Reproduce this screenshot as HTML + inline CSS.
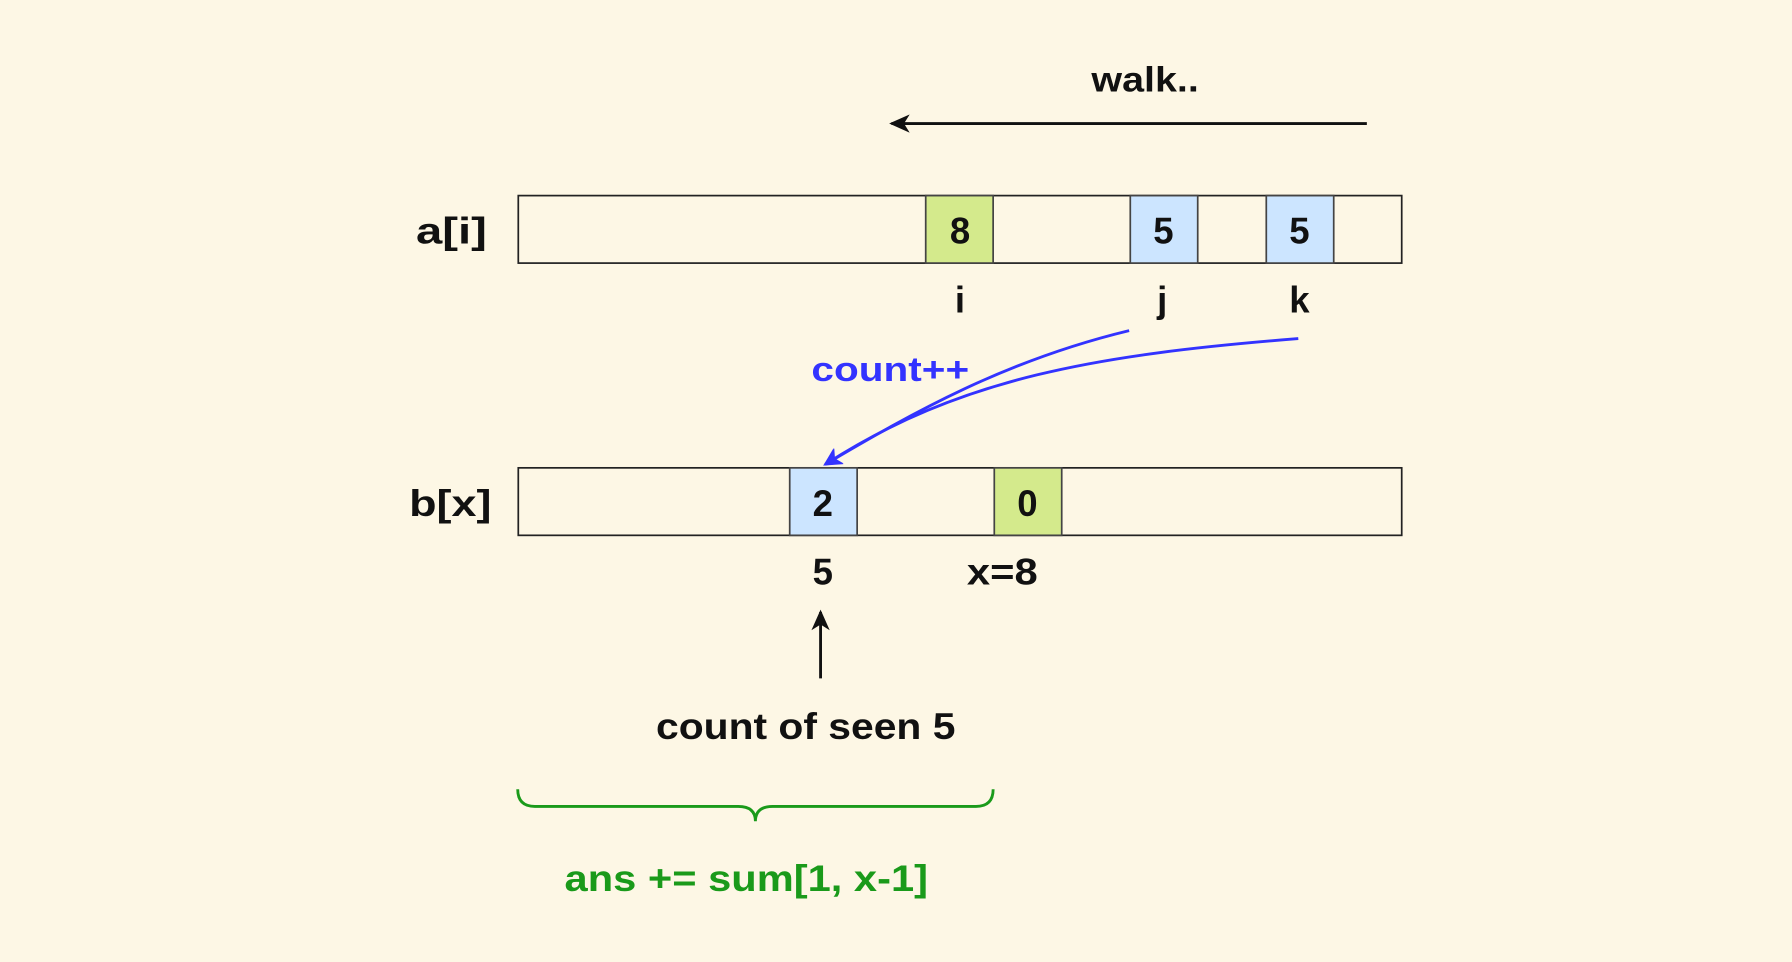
<!DOCTYPE html>
<html><head><meta charset="utf-8"><style>
html,body{margin:0;padding:0;background:#fdf7e5;}
svg{display:block}
text{font-family:"Liberation Sans",sans-serif;font-weight:bold;}
</style></head><body>
<svg width="1792" height="962" viewBox="0 0 1568 841" preserveAspectRatio="none" xmlns="http://www.w3.org/2000/svg">
<rect x="0" y="0" width="1568" height="841" fill="#fdf7e5"/>
<defs>
<marker id="ab" markerWidth="18" markerHeight="18" refX="16" refY="9" orient="auto" markerUnits="userSpaceOnUse"><path d="M0,1 L18,9 L0,17 L5,9 Z" fill="#111"/></marker>
<marker id="ablue" markerWidth="16" markerHeight="16" refX="14" refY="8" orient="auto" markerUnits="userSpaceOnUse"><path d="M0,0 L16,8 L0,16 L4,8 Z" fill="#3333ff"/></marker>
</defs>
<text x="1002" y="80" font-size="31" text-anchor="middle" fill="#111" textLength="94" lengthAdjust="spacingAndGlyphs">walk..</text>
<line x1="1196" y1="108" x2="780" y2="108" stroke="#111" stroke-width="2.5" marker-end="url(#ab)"/>
<text x="395" y="213" font-size="32" text-anchor="middle" fill="#111" textLength="62" lengthAdjust="spacingAndGlyphs">a[i]</text>
<rect x="453.5" y="171" width="773" height="59" fill="none" stroke="#222" stroke-width="1.5"/>
<rect x="810" y="171" width="59" height="59" fill="#d4ea8c" stroke="#444" stroke-width="1.5"/>
<rect x="989" y="171" width="59" height="59" fill="#cce5ff" stroke="#444" stroke-width="1.5"/>
<rect x="1108" y="171" width="59" height="59" fill="#cce5ff" stroke="#444" stroke-width="1.5"/>
<text x="840" y="213" font-size="32" text-anchor="middle" fill="#111">8</text>
<text x="1018" y="213" font-size="32" text-anchor="middle" fill="#111">5</text>
<text x="1137" y="213" font-size="32" text-anchor="middle" fill="#111">5</text>
<text x="840" y="273" font-size="32" text-anchor="middle" fill="#111">i</text>
<text x="1017" y="273" font-size="32" text-anchor="middle" fill="#111">j</text>
<text x="1137" y="273" font-size="32" text-anchor="middle" fill="#111">k</text>
<path d="M988,289 C880,315 800,360 722,406" fill="none" stroke="#3333ff" stroke-width="2.5" marker-end="url(#ablue)"/>
<path d="M1136,296 C960,310 840,330 722,406" fill="none" stroke="#3333ff" stroke-width="2.5" marker-end="url(#ablue)"/>
<text x="779" y="333" font-size="30" text-anchor="middle" fill="#3333ff" textLength="138" lengthAdjust="spacingAndGlyphs">count++</text>
<text x="394" y="451" font-size="32" text-anchor="middle" fill="#111" textLength="72" lengthAdjust="spacingAndGlyphs">b[x]</text>
<rect x="453.5" y="409" width="773" height="59" fill="none" stroke="#222" stroke-width="1.5"/>
<rect x="691" y="409" width="59" height="59" fill="#cce5ff" stroke="#444" stroke-width="1.5"/>
<rect x="870" y="409" width="59" height="59" fill="#d4ea8c" stroke="#444" stroke-width="1.5"/>
<text x="720" y="451" font-size="32" text-anchor="middle" fill="#111">2</text>
<text x="899" y="451" font-size="32" text-anchor="middle" fill="#111">0</text>
<text x="720" y="511" font-size="32" text-anchor="middle" fill="#111">5</text>
<text x="877" y="511" font-size="32" text-anchor="middle" fill="#111" textLength="62" lengthAdjust="spacingAndGlyphs">x=8</text>
<line x1="718" y1="593" x2="718" y2="535" stroke="#111" stroke-width="2.5" marker-end="url(#ab)"/>
<text x="705" y="646" font-size="32" text-anchor="middle" fill="#111" textLength="262" lengthAdjust="spacingAndGlyphs">count of seen 5</text>
<path d="M453,690 Q453,705 468,705 L646,705 Q661,705 661,718 Q661,705 676,705 L854,705 Q869,705 869,690" fill="none" stroke="#1a9a1a" stroke-width="2.5"/>
<text x="653" y="779" font-size="32" text-anchor="middle" fill="#1a9a1a" textLength="318" lengthAdjust="spacingAndGlyphs">ans += sum[1, x-1]</text>
</svg>
</body></html>
